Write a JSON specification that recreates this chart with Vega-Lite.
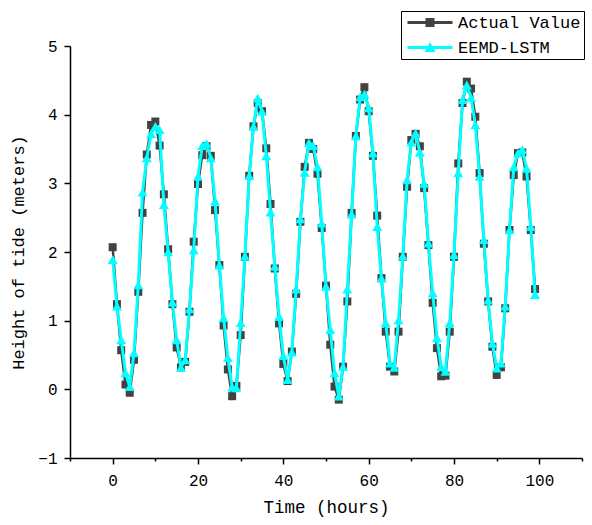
{
  "$schema": "https://vega.github.io/schema/vega-lite/v6.json",
  "width": 512,
  "height": 412,
  "autosize": "none",
  "padding": {"left": 70, "top": 46, "right": 10, "bottom": 67},
  "background": "white",
  "config": {
    "view": {"stroke": null},
    "font": "Liberation Mono"
  },
  "data": {
    "values": [
      {"hour": 0, "Actual Value": 2.07, "EEMD-LSTM": 1.89},
      {"hour": 1, "Actual Value": 1.24, "EEMD-LSTM": 1.21},
      {"hour": 2, "Actual Value": 0.57, "EEMD-LSTM": 0.72},
      {"hour": 3, "Actual Value": 0.07, "EEMD-LSTM": 0.24},
      {"hour": 4, "Actual Value": -0.05, "EEMD-LSTM": 0.04},
      {"hour": 5, "Actual Value": 0.43, "EEMD-LSTM": 0.53},
      {"hour": 6, "Actual Value": 1.42, "EEMD-LSTM": 1.52},
      {"hour": 7, "Actual Value": 2.57, "EEMD-LSTM": 2.87},
      {"hour": 8, "Actual Value": 3.42, "EEMD-LSTM": 3.37},
      {"hour": 9, "Actual Value": 3.85, "EEMD-LSTM": 3.72},
      {"hour": 10, "Actual Value": 3.9, "EEMD-LSTM": 3.83},
      {"hour": 11, "Actual Value": 3.55, "EEMD-LSTM": 3.78},
      {"hour": 12, "Actual Value": 2.84, "EEMD-LSTM": 2.69},
      {"hour": 13, "Actual Value": 2.04, "EEMD-LSTM": 2.0},
      {"hour": 14, "Actual Value": 1.24, "EEMD-LSTM": 1.27},
      {"hour": 15, "Actual Value": 0.61, "EEMD-LSTM": 0.72},
      {"hour": 16, "Actual Value": 0.32, "EEMD-LSTM": 0.32},
      {"hour": 17, "Actual Value": 0.4, "EEMD-LSTM": 0.43},
      {"hour": 18, "Actual Value": 1.13, "EEMD-LSTM": 1.17},
      {"hour": 19, "Actual Value": 2.15, "EEMD-LSTM": 2.03},
      {"hour": 20, "Actual Value": 2.99, "EEMD-LSTM": 3.1},
      {"hour": 21, "Actual Value": 3.41, "EEMD-LSTM": 3.55},
      {"hour": 22, "Actual Value": 3.54, "EEMD-LSTM": 3.58},
      {"hour": 23, "Actual Value": 3.4, "EEMD-LSTM": 3.37},
      {"hour": 24, "Actual Value": 2.61, "EEMD-LSTM": 2.74},
      {"hour": 25, "Actual Value": 1.81, "EEMD-LSTM": 1.81},
      {"hour": 26, "Actual Value": 0.93, "EEMD-LSTM": 1.04},
      {"hour": 27, "Actual Value": 0.29, "EEMD-LSTM": 0.46},
      {"hour": 28, "Actual Value": -0.1, "EEMD-LSTM": 0.03},
      {"hour": 29, "Actual Value": 0.05, "EEMD-LSTM": 0.02},
      {"hour": 30, "Actual Value": 0.79, "EEMD-LSTM": 0.97},
      {"hour": 31, "Actual Value": 1.93, "EEMD-LSTM": 1.94},
      {"hour": 32, "Actual Value": 3.11, "EEMD-LSTM": 3.11},
      {"hour": 33, "Actual Value": 3.83, "EEMD-LSTM": 3.83},
      {"hour": 34, "Actual Value": 4.17, "EEMD-LSTM": 4.24},
      {"hour": 35, "Actual Value": 4.05, "EEMD-LSTM": 4.05},
      {"hour": 36, "Actual Value": 3.51, "EEMD-LSTM": 3.4},
      {"hour": 37, "Actual Value": 2.7, "EEMD-LSTM": 2.58},
      {"hour": 38, "Actual Value": 1.76, "EEMD-LSTM": 1.79},
      {"hour": 39, "Actual Value": 0.96, "EEMD-LSTM": 1.06},
      {"hour": 40, "Actual Value": 0.37, "EEMD-LSTM": 0.49},
      {"hour": 41, "Actual Value": 0.12, "EEMD-LSTM": 0.14},
      {"hour": 42, "Actual Value": 0.55, "EEMD-LSTM": 0.54},
      {"hour": 43, "Actual Value": 1.39, "EEMD-LSTM": 1.46},
      {"hour": 44, "Actual Value": 2.44, "EEMD-LSTM": 2.48},
      {"hour": 45, "Actual Value": 3.24, "EEMD-LSTM": 3.16},
      {"hour": 46, "Actual Value": 3.59, "EEMD-LSTM": 3.59},
      {"hour": 47, "Actual Value": 3.5, "EEMD-LSTM": 3.55},
      {"hour": 48, "Actual Value": 3.14, "EEMD-LSTM": 3.24},
      {"hour": 49, "Actual Value": 2.35, "EEMD-LSTM": 2.42},
      {"hour": 50, "Actual Value": 1.51, "EEMD-LSTM": 1.5},
      {"hour": 51, "Actual Value": 0.65, "EEMD-LSTM": 0.87},
      {"hour": 52, "Actual Value": 0.04, "EEMD-LSTM": 0.24},
      {"hour": 53, "Actual Value": -0.15, "EEMD-LSTM": -0.1},
      {"hour": 54, "Actual Value": 0.33, "EEMD-LSTM": 0.33},
      {"hour": 55, "Actual Value": 1.28, "EEMD-LSTM": 1.46},
      {"hour": 56, "Actual Value": 2.57, "EEMD-LSTM": 2.55},
      {"hour": 57, "Actual Value": 3.69, "EEMD-LSTM": 3.69},
      {"hour": 58, "Actual Value": 4.22, "EEMD-LSTM": 4.26},
      {"hour": 59, "Actual Value": 4.4, "EEMD-LSTM": 4.3},
      {"hour": 60, "Actual Value": 4.05, "EEMD-LSTM": 4.1},
      {"hour": 61, "Actual Value": 3.4, "EEMD-LSTM": 3.44},
      {"hour": 62, "Actual Value": 2.53, "EEMD-LSTM": 2.37},
      {"hour": 63, "Actual Value": 1.62, "EEMD-LSTM": 1.62},
      {"hour": 64, "Actual Value": 0.84, "EEMD-LSTM": 0.97},
      {"hour": 65, "Actual Value": 0.33, "EEMD-LSTM": 0.38},
      {"hour": 66, "Actual Value": 0.26, "EEMD-LSTM": 0.32},
      {"hour": 67, "Actual Value": 0.84, "EEMD-LSTM": 1.01},
      {"hour": 68, "Actual Value": 1.93, "EEMD-LSTM": 1.94},
      {"hour": 69, "Actual Value": 2.95, "EEMD-LSTM": 3.05},
      {"hour": 70, "Actual Value": 3.63, "EEMD-LSTM": 3.6},
      {"hour": 71, "Actual Value": 3.72, "EEMD-LSTM": 3.73},
      {"hour": 72, "Actual Value": 3.54, "EEMD-LSTM": 3.45},
      {"hour": 73, "Actual Value": 2.93, "EEMD-LSTM": 3.0},
      {"hour": 74, "Actual Value": 2.1, "EEMD-LSTM": 2.13},
      {"hour": 75, "Actual Value": 1.26, "EEMD-LSTM": 1.4},
      {"hour": 76, "Actual Value": 0.6, "EEMD-LSTM": 0.75},
      {"hour": 77, "Actual Value": 0.19, "EEMD-LSTM": 0.33},
      {"hour": 78, "Actual Value": 0.2, "EEMD-LSTM": 0.26},
      {"hour": 79, "Actual Value": 0.84, "EEMD-LSTM": 0.97},
      {"hour": 80, "Actual Value": 1.93, "EEMD-LSTM": 1.96},
      {"hour": 81, "Actual Value": 3.29, "EEMD-LSTM": 3.15},
      {"hour": 82, "Actual Value": 4.17, "EEMD-LSTM": 4.22},
      {"hour": 83, "Actual Value": 4.48, "EEMD-LSTM": 4.43},
      {"hour": 84, "Actual Value": 4.38, "EEMD-LSTM": 4.25},
      {"hour": 85, "Actual Value": 3.97, "EEMD-LSTM": 3.85},
      {"hour": 86, "Actual Value": 3.15, "EEMD-LSTM": 3.1},
      {"hour": 87, "Actual Value": 2.12, "EEMD-LSTM": 2.18},
      {"hour": 88, "Actual Value": 1.28, "EEMD-LSTM": 1.3},
      {"hour": 89, "Actual Value": 0.62, "EEMD-LSTM": 0.67},
      {"hour": 90, "Actual Value": 0.21, "EEMD-LSTM": 0.31},
      {"hour": 91, "Actual Value": 0.32, "EEMD-LSTM": 0.38},
      {"hour": 92, "Actual Value": 1.18, "EEMD-LSTM": 1.21},
      {"hour": 93, "Actual Value": 2.32, "EEMD-LSTM": 2.32},
      {"hour": 94, "Actual Value": 3.12, "EEMD-LSTM": 3.24},
      {"hour": 95, "Actual Value": 3.44, "EEMD-LSTM": 3.44},
      {"hour": 96, "Actual Value": 3.45, "EEMD-LSTM": 3.49},
      {"hour": 97, "Actual Value": 3.1, "EEMD-LSTM": 3.22},
      {"hour": 98, "Actual Value": 2.32, "EEMD-LSTM": 2.37},
      {"hour": 99, "Actual Value": 1.46, "EEMD-LSTM": 1.38}
    ]
  },
  "transform": [
    {"fold": ["Actual Value", "EEMD-LSTM"], "as": ["series", "height"]}
  ],
  "encoding": {
    "x": {
      "field": "hour",
      "type": "quantitative",
      "scale": {"domain": [-10, 110], "nice": false, "zero": false},
      "axis": {
        "title": "Time (hours)",
        "values": [-10, 0, 10, 20, 30, 40, 50, 60, 70, 80, 90, 100, 110],
        "format": "d",
        "labelExpr": "datum.value % 20 === 0 ? datum.label : ''",
        "tickSize": {"condition": {"test": "datum.value % 20 === 0", "value": 6}, "value": 3},
        "grid": false,
        "domainColor": "black",
        "domainWidth": 1.5,
        "tickColor": "black",
        "tickWidth": 1.5,
        "labelColor": "black",
        "labelFont": "Liberation Mono",
        "labelFontSize": 16,
        "labelPadding": 8,
        "labelFlush": false,
        "titleColor": "black",
        "titleFont": "Liberation Mono",
        "titleFontSize": 17.5,
        "titleFontWeight": "normal",
        "titlePadding": 10
      }
    },
    "y": {
      "field": "height",
      "type": "quantitative",
      "scale": {"domain": [-1, 5], "nice": false, "zero": false},
      "axis": {
        "title": "Height of tide (meters)",
        "values": [-1, -0.5, 0, 0.5, 1, 1.5, 2, 2.5, 3, 3.5, 4, 4.5, 5],
        "format": "d",
        "labelExpr": "datum.value % 1 === 0 ? datum.label : ''",
        "tickSize": {"condition": {"test": "datum.value % 1 === 0", "value": 6}, "value": 3},
        "grid": false,
        "domainColor": "black",
        "domainWidth": 1.5,
        "tickColor": "black",
        "tickWidth": 1.5,
        "labelColor": "black",
        "labelFont": "Liberation Mono",
        "labelFontSize": 16,
        "labelPadding": 7,
        "labelFlush": false,
        "titleColor": "black",
        "titleFont": "Liberation Mono",
        "titleFontSize": 17,
        "titleFontWeight": "normal",
        "titlePadding": 10
      }
    }
  },
  "layer": [
    {
      "transform": [{"filter": "datum.series === 'Actual Value'"}],
      "mark": {"type": "line", "strokeWidth": 2.5},
      "encoding": {
        "color": {
          "field": "series",
          "type": "nominal",
          "scale": {"domain": ["Actual Value", "EEMD-LSTM"], "range": ["#424242", "#00FFFF"]},
          "legend": {
            "orient": "none",
            "legendX": 331,
            "legendY": -35,
            "title": null,
            "padding": 3,
            "strokeColor": "black",
            "fillColor": "white",
            "symbolSize": 100,
            "labelOffset": 37,
            "labelFont": "Liberation Mono",
            "labelFontSize": 17,
            "labelColor": "black",
            "rowPadding": 7,
            "encode": {
              "symbols": {
                "update": {
                  "shape": {"signal": "datum.value === 'Actual Value' ? 'M-1,-0.3L8,-0.3L8,0.3L-1,0.3Z M2.6,-0.9L4.4,-0.9L4.4,0.9L2.6,0.9Z' : 'M-1,-0.3L8,-0.3L8,0.3L-1,0.3Z M3.5,-1.1L4.6,0.9L2.4,0.9Z'"},
                  "fill": {"signal": "datum.value === 'Actual Value' ? '#424242' : '#00FFFF'"},
                  "fillOpacity": {"value": 1},
                  "opacity": {"value": 1},
                  "strokeWidth": {"value": 0},
                  "stroke": {"value": "transparent"}
                }
              }
            }
          }
        }
      }
    },
    {
      "transform": [{"filter": "datum.series === 'Actual Value'"}],
      "mark": {"type": "point", "shape": "square", "filled": true, "opacity": 1, "size": 64},
      "encoding": {
        "color": {"field": "series", "type": "nominal", "legend": null}
      }
    },
    {
      "transform": [{"filter": "datum.series === 'EEMD-LSTM'"}],
      "mark": {"type": "line", "strokeWidth": 3},
      "encoding": {
        "color": {"field": "series", "type": "nominal", "legend": null}
      }
    },
    {
      "transform": [{"filter": "datum.series === 'EEMD-LSTM'"}],
      "mark": {"type": "point", "shape": "triangle-up", "filled": true, "opacity": 1, "size": 100},
      "encoding": {
        "color": {"field": "series", "type": "nominal", "legend": null}
      }
    }
  ]
}
